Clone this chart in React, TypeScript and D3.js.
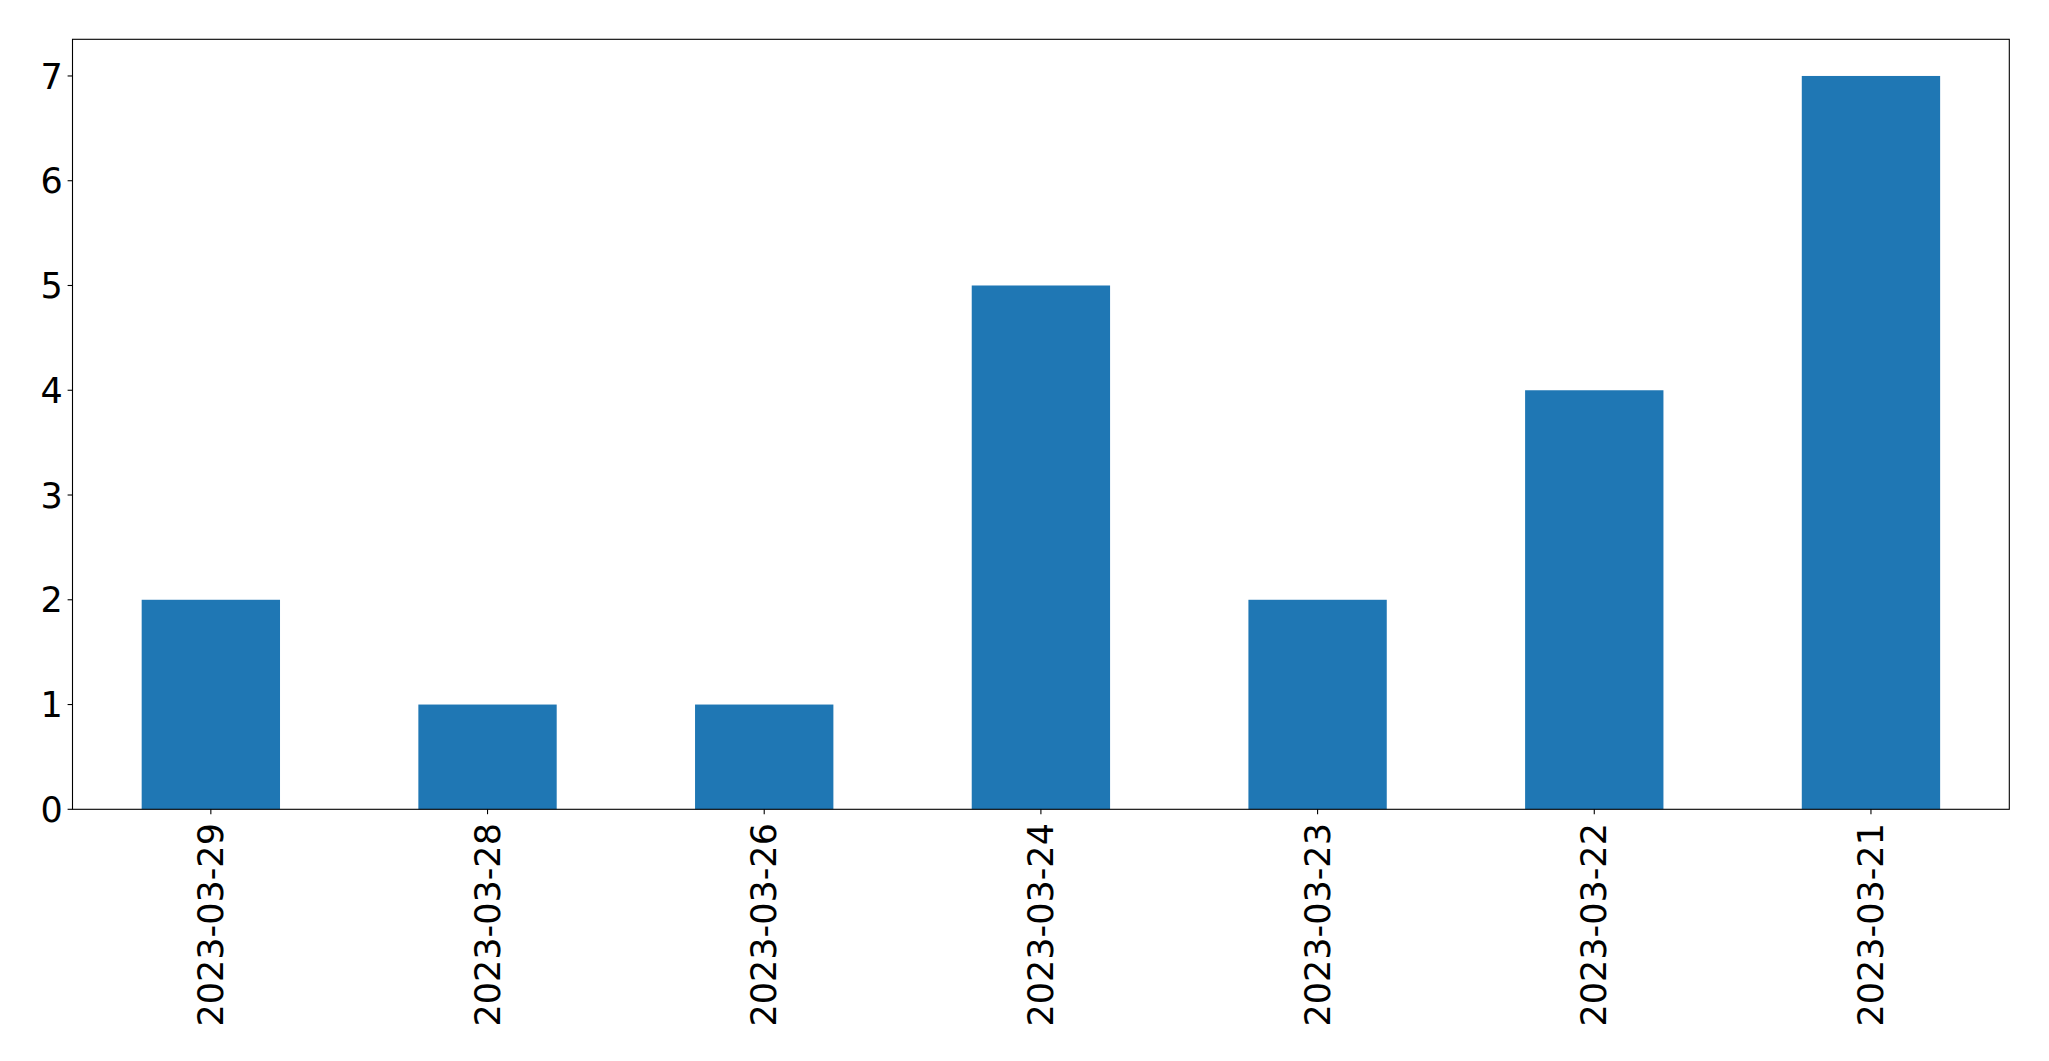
import React from "react";
import * as d3 from "d3";

const categories = ["2023-03-29", "2023-03-28", "2023-03-26", "2023-03-24", "2023-03-23", "2023-03-22", "2023-03-21"];
const values = [2, 1, 1, 5, 2, 4, 7];
const yTicks = [0, 1, 2, 3, 4, 5, 6, 7];

const W = 2049;
const H = 1061;
const left = 72.5;
const right = 2009.3;
const top = 39.3;
const bottom = 809.3;
const fontSize = 35;
const tickLen = 4.9;
const pad = 4.9;

export default function App() {
  const x = d3.scaleLinear().domain([-0.5, categories.length - 0.5]).range([left, right]);
  const y = d3.scaleLinear().domain([0, 7.35]).range([bottom, top]);
  const barW = x(0.25) - x(-0.25);

  return (
    <svg width={W} height={H} style={{ position: "absolute", left: 0, top: 0, background: "#fff" }}
      fontFamily="DejaVu Sans" fontSize={fontSize}>
      <rect x={0} y={0} width={W} height={H} fill="#fff" />
      {values.map((v, i) => (
        <rect key={i} x={x(i) - barW / 2} y={y(v)} width={barW} height={y(0) - y(v)} fill="#1f77b4" />
      ))}
      <rect x={left} y={top} width={right - left} height={bottom - top} fill="none" stroke="#000" strokeWidth={1.1} />
      {yTicks.map((t) => (
        <g key={t}>
          <line x1={left - tickLen} x2={left} y1={y(t)} y2={y(t)} stroke="#000" strokeWidth={1.1} />
          <text x={left - tickLen - pad} y={y(t)} dy="0.36em" textAnchor="end" fill="#000">{t}</text>
        </g>
      ))}
      {categories.map((c, i) => (
        <g key={c}>
          <line x1={x(i)} x2={x(i)} y1={bottom} y2={bottom + tickLen} stroke="#000" strokeWidth={1.1} />
          <text transform={`translate(${x(i) + 0.346 * fontSize},${bottom + tickLen + pad + 4}) rotate(-90)`}
            textAnchor="end" fill="#000">{c}</text>
        </g>
      ))}
    </svg>
  );
}
